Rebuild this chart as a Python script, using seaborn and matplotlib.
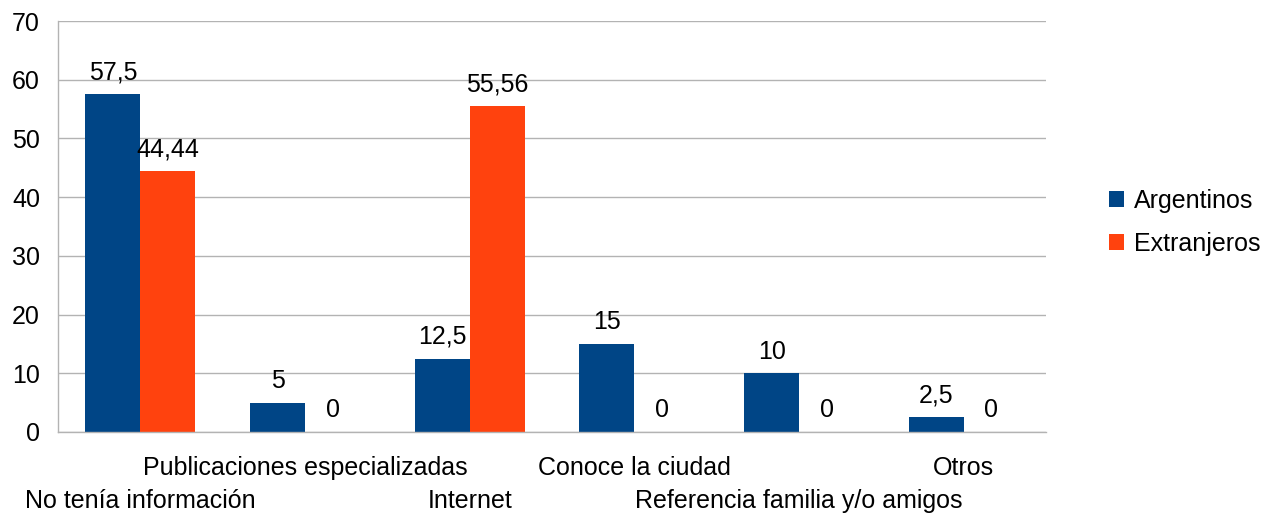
import pandas as pd
import matplotlib
matplotlib.use("Agg")
import matplotlib.pyplot as plt
import seaborn as sns

# categories and series values
categorias = ["No tenía información", "Publicaciones especializadas", "Internet",
              "Conoce la ciudad", "Referencia familia y/o amigos", "Otros"]
argentinos = [57.5, 5, 12.5, 15, 10, 2.5]
extranjeros = [44.44, 0, 55.56, 0, 0, 0]
grupos = ["Argentinos", "Extranjeros"]
colores = ["#004586", "#ff420e"]
yticks = [0, 10, 20, 30, 40, 50, 60, 70]

df = pd.DataFrame({
    "categoria": categorias * 2,
    "valor": argentinos + extranjeros,
    "grupo": [grupos[0]] * len(categorias) + [grupos[1]] * len(categorias),
})

sns.set_style("white")
plt.rcParams['font.family'] = ['Liberation Sans', 'DejaVu Sans']
plt.rcParams['text.color'] = 'black'
plt.rcParams['xtick.color'] = 'black'
plt.rcParams['ytick.color'] = 'black'

fig, ax = plt.subplots(figsize=(12.62, 5.13), dpi=100)
fig.subplots_adjust(left=0.046, right=0.829, bottom=0.158, top=0.959)

sns.barplot(data=df, x="categoria", y="valor", hue="grupo", palette=colores,
            saturation=1, width=0.668, linewidth=0, ax=ax)

for cont in ax.containers:
    vals = [b.get_height() for b in cont]
    ax.bar_label(cont, labels=[f"{v:g}".replace(".", ",") for v in vals],
                 padding=7, fontsize=18, color="black")

gris = "#b3b3b3"
ax.set_ylim(0, 70)
ax.set_yticks(yticks)
ax.set_xlim(-0.5, len(categorias) - 0.5)
ax.grid(axis="y", color=gris, linewidth=1)
ax.set_axisbelow(True)
for s in ["top", "right"]:
    ax.spines[s].set_visible(False)
for s in ["left", "bottom"]:
    ax.spines[s].set_color(gris)
    ax.spines[s].set_linewidth(1)

# staggered category labels
ax.set_xticks(range(len(categorias)))
ax.set_xticklabels(categorias, fontsize=18)
ax.tick_params(axis="x", which="major", length=0)
for i, t in enumerate(ax.xaxis.get_major_ticks()):
    t.set_pad(41 if i % 2 == 0 else 17)
ax.set_xticks([i - 0.5 for i in range(len(categorias) + 1)], minor=True)
ax.tick_params(axis="x", which="minor", length=11, color=gris, width=1)
ax.tick_params(axis="y", length=11, color=gris, width=1, labelsize=18, pad=2,
               labelcolor="black")
ax.set_xlabel("")
ax.set_ylabel("")

ax.legend(loc="center left", bbox_to_anchor=(1.053, 0.51), frameon=False,
          fontsize=18, handlelength=0.6, handleheight=0.6, handletextpad=0.4,
          labelspacing=0.75, borderaxespad=0)

fig.savefig("out.png", dpi=100)
